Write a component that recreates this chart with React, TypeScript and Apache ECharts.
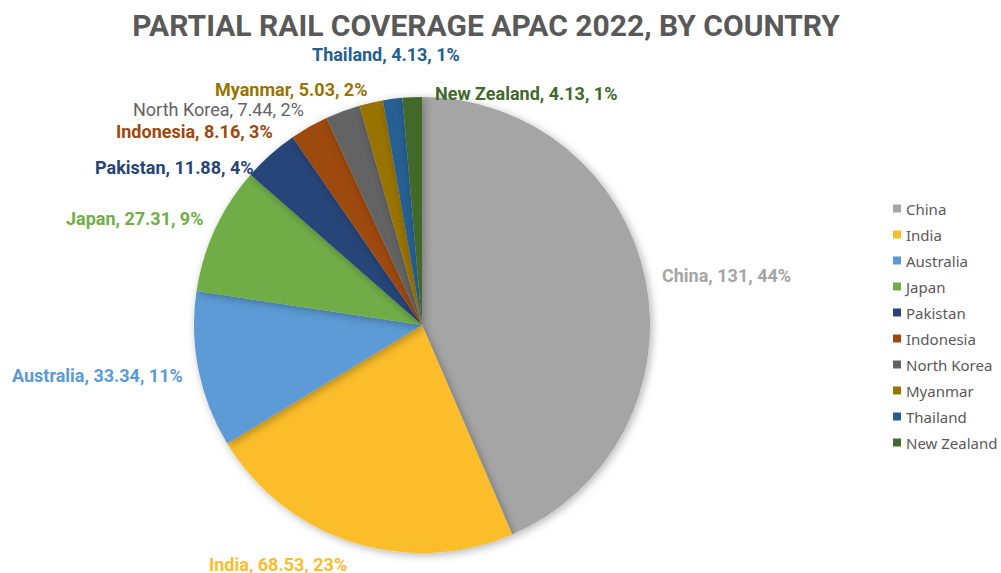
import React, { useEffect, useRef } from "react";
import * as echarts from "echarts";

const countries = ["China", "India", "Australia", "Japan", "Pakistan", "Indonesia", "North Korea", "Myanmar", "Thailand", "New Zealand"];
const values = [131, 68.53, 33.34, 27.31, 11.88, 8.16, 7.44, 5.03, 4.13, 4.13];
const colors = ["#A5A5A5", "#FBBD2C", "#5B9BD5", "#70AD47", "#264478", "#9E480E", "#636363", "#997300", "#255E91", "#43682B"];
const titleText = "PARTIAL RAIL COVERAGE APAC 2022, BY COUNTRY";

// label anchor (left edge x, middle y) in pixels, as placed in the reference
const labelLeft = [662, 209, 12, 66, 95, 116, 133, 215, 312, 435];
const labelMidY = [275, 564, 375, 218, 167, 131, 109, 89, 54, 93];
const labelBold = [true, true, true, true, true, true, false, true, true, true];

export default function App() {
  const ref = useRef<HTMLDivElement>(null);
  useEffect(() => {
    const chart = echarts.init(ref.current!, null, { renderer: "svg" });
    chart.setOption({
      animation: false,
      backgroundColor: "#ffffff",
      title: {
        text: titleText,
        left: 481,
        textAlign: "center",
        top: 5,
        textStyle: { fontFamily: "Roboto, sans-serif", fontWeight: "bold", fontSize: 30, color: "#595959" },
      },
      legend: {
        orient: "vertical",
        left: 888,
        top: 196,
        itemWidth: 8,
        itemHeight: 8,
        itemGap: 11,
        icon: "rect",
        textStyle: { fontFamily: "Noto Sans, sans-serif", fontSize: 15, color: "#595959" },
        data: countries,
      },
      series: [
        {
          type: "pie",
          center: [422, 325],
          radius: 228,
          startAngle: 90,
          clockwise: true,
          data: countries.map((c, i) => ({
            name: c,
            value: values[i],
            itemStyle: { color: colors[i] },
            label: { fontWeight: labelBold[i] ? "bold" : "normal" },
          })),
          label: {
            show: true,
            position: "outside",
            overflow: "none",
            formatter: (p: any) => `${p.name}, ${p.value}, ${Math.round(p.percent)}%`,
            fontFamily: "Roboto, sans-serif",
            fontWeight: "bold",
            fontSize: 18,
            lineHeight: 15,
            color: "inherit",
          },
          labelLayout: (p: any) => ({
            x: labelLeft[p.dataIndex],
            y: labelMidY[p.dataIndex],
            align: "left",
            verticalAlign: "middle",
          }),
          labelLine: { show: false },
          itemStyle: {
            borderWidth: 0,
            shadowBlur: 8,
            shadowColor: "rgba(0,0,0,0.3)",
            shadowOffsetX: 2,
            shadowOffsetY: 2,
          },
          emphasis: { disabled: true },
        },
      ],
    });
    return () => chart.dispose();
  }, []);
  return <div ref={ref} style={{ position: "fixed", left: 0, top: 0, width: 1001, height: 573 }} />;
}
